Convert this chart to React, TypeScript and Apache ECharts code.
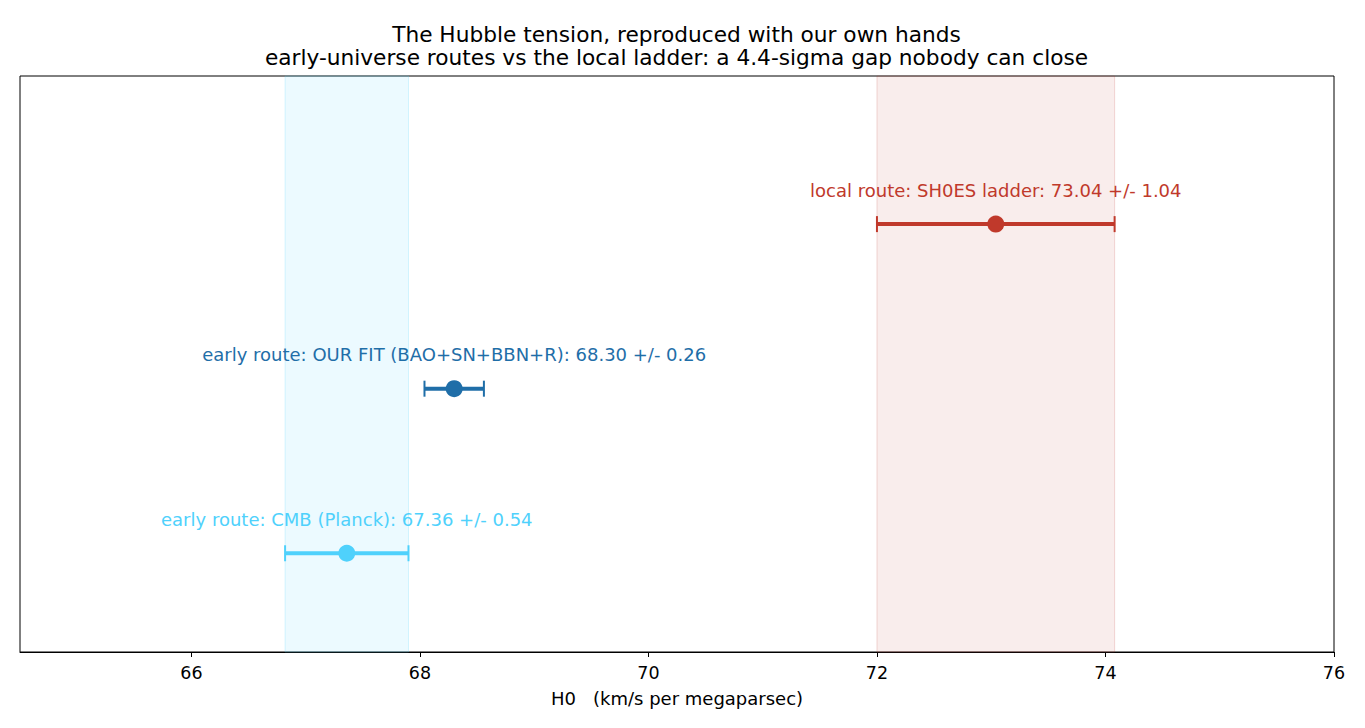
import React, { useEffect, useRef } from 'react';
import * as echarts from 'echarts';

const routeNames = ['early route: CMB (Planck)', 'early route: OUR FIT (BAO+SN+BBN+R)', 'local route: SH0ES ladder'];
const h0Values = [67.36, 68.30, 73.04];
const h0Errors = [0.54, 0.26, 1.04];
const rowIndex = [0, 1, 2];
const routeColors = ['#4fd1fc', '#1f6ea8', '#c0392b'];
const tickValues = [66, 68, 70, 72, 74, 76];

const App: React.FC = () => {
    const chartRef = useRef<HTMLDivElement | null>(null);

    useEffect(() => {
        if (!chartRef.current) return;
        document.body.style.margin = '0';

        const myChart = echarts.init(chartRef.current, null, { renderer: 'svg' });
        const font = 'DejaVu Sans';

        const data = rowIndex.map(i => [h0Values[i], h0Errors[i], i]);

        const option = {
            animation: false,
            backgroundColor: '#fff',
            textStyle: { fontFamily: font },
            title: {
                text: 'The Hubble tension, reproduced with our own hands\nearly-universe routes vs the local ladder: a 4.4-sigma gap nobody can close',
                left: 671.5,
                top: 18,
                textAlign: 'center',
                textStyle: { fontFamily: font, fontSize: 21.7, fontWeight: 'normal', color: '#000', lineHeight: 23 }
            },
            grid: {
                left: 20, right: 31, top: 76, bottom: 76,
                show: true, borderColor: '#000', borderWidth: 1, backgroundColor: 'transparent'
            },
            xAxis: {
                type: 'value',
                min: 64.5,
                max: 76,
                name: 'H0   (km/s per megaparsec)',
                nameLocation: 'middle',
                nameGap: 37,
                nameTextStyle: { fontFamily: font, fontSize: 18, color: '#000' },
                splitLine: { show: false },
                axisLine: { onZero: false, lineStyle: { color: '#000', width: 1 } },
                axisTick: { show: true, length: 5, lineStyle: { color: '#000' }, customValues: tickValues },
                axisLabel: { fontFamily: font, fontSize: 17.5, color: '#000', margin: 12, customValues: tickValues }
            },
            yAxis: {
                type: 'value',
                min: -0.6,
                max: 2.9,
                show: false
            },
            series: [
                {
                    type: 'custom',
                    data: data,
                    z: 5,
                    renderItem: (params: any, api: any) => {
                        const c = api.value(0);
                        const e = api.value(1);
                        const r = api.value(2);
                        const idx = params.dataIndex;
                        const color = routeColors[idx];
                        const lo = api.coord([c - e, r]);
                        const hi = api.coord([c + e, r]);
                        const mid = api.coord([c, r]);
                        const cap = 8;
                        return {
                            type: 'group',
                            children: [
                                { type: 'line', shape: { x1: lo[0], y1: lo[1], x2: hi[0], y2: hi[1] }, style: { stroke: color, lineWidth: 4 } },
                                { type: 'line', shape: { x1: lo[0], y1: lo[1] - cap, x2: lo[0], y2: lo[1] + cap }, style: { stroke: color, lineWidth: 2 } },
                                { type: 'line', shape: { x1: hi[0], y1: hi[1] - cap, x2: hi[0], y2: hi[1] + cap }, style: { stroke: color, lineWidth: 2 } },
                                { type: 'circle', shape: { cx: mid[0], cy: mid[1], r: 8.5 }, style: { fill: color } },
                                {
                                    type: 'text',
                                    x: mid[0],
                                    y: mid[1] - 34,
                                    style: {
                                        text: `${routeNames[idx]}: ${c.toFixed(2)} +/- ${e.toFixed(2)}`,
                                        fill: color,
                                        font: `18px "${font}"`,
                                        align: 'center',
                                        verticalAlign: 'middle'
                                    }
                                }
                            ]
                        };
                    }
                },
                {
                    type: 'line',
                    data: [],
                    silent: true,
                    markArea: {
                        silent: true,
                        data: [
                            [
                                { xAxis: h0Values[0] - h0Errors[0], itemStyle: { color: 'rgba(79,209,252,0.11)', borderColor: 'rgba(79,209,252,0.22)', borderWidth: 1 } },
                                { xAxis: h0Values[0] + h0Errors[0] }
                            ],
                            [
                                { xAxis: h0Values[2] - h0Errors[2], itemStyle: { color: 'rgba(192,57,43,0.09)', borderColor: 'rgba(192,57,43,0.18)', borderWidth: 1 } },
                                { xAxis: h0Values[2] + h0Errors[2] }
                            ]
                        ]
                    }
                }
            ]
        };

        myChart.setOption(option);

        return () => {
            myChart.dispose();
        };
    }, []);

    return <div ref={chartRef} style={{ width: '1365px', height: '728px' }} />;
};

export default App;
